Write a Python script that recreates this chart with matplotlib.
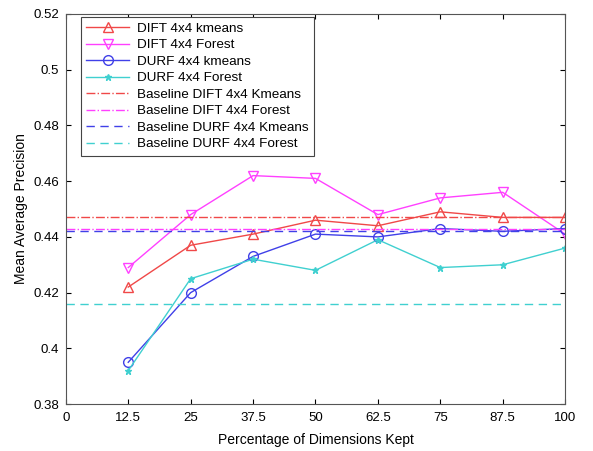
import matplotlib
matplotlib.use('Agg')
import matplotlib.pyplot as plt

plt.rcParams['font.family'] = ['Liberation Sans', 'DejaVu Sans']

pct = [12.5, 25, 37.5, 50, 62.5, 75, 87.5, 100]
dift_kmeans = [0.422, 0.437, 0.441, 0.446, 0.444, 0.449, 0.447, 0.447]
dift_forest = [0.429, 0.448, 0.462, 0.461, 0.448, 0.454, 0.456, 0.441]
durf_kmeans = [0.395, 0.420, 0.433, 0.441, 0.440, 0.443, 0.442, 0.443]
durf_forest = [0.392, 0.425, 0.432, 0.428, 0.439, 0.429, 0.430, 0.436]

base_dift_kmeans = 0.447
base_dift_forest = 0.443
base_durf_kmeans = 0.442
base_durf_forest = 0.416

red = '#f04848'
mag = '#ff40ff'
blue = '#4040e8'
cyan = '#40d0d0'

fig = plt.figure(figsize=(5.93, 4.51), dpi=100)
ax = fig.add_axes([0.111, 0.104, 0.842, 0.865])

ax.plot(pct, dift_kmeans, color=red, marker='^', mfc='none', ms=7, lw=1, label='DIFT 4x4 kmeans')
ax.plot(pct, dift_forest, color=mag, marker='v', mfc='none', ms=7, lw=1, label='DIFT 4x4 Forest')
ax.plot(pct, durf_kmeans, color=blue, marker='o', mfc='none', ms=7, lw=1, label='DURF 4x4 kmeans')
ax.plot(pct, durf_forest, color=cyan, marker='*', ms=5, lw=1, label='DURF 4x4 Forest')
ax.plot([0, 100], [base_dift_kmeans] * 2, color=red, ls='-.', lw=1, label='Baseline DIFT 4x4 Kmeans')
ax.plot([0, 100], [base_dift_forest] * 2, color=mag, ls='-.', lw=1, label='Baseline DIFT 4x4 Forest')
ax.plot([0, 100], [base_durf_kmeans] * 2, color=blue, ls=(0, (6, 4)), lw=1, label='Baseline DURF 4x4 Kmeans')
ax.plot([0, 100], [base_durf_forest] * 2, color=cyan, ls=(0, (6, 4)), lw=1, label='Baseline DURF 4x4 Forest')

ax.set_xlim(0, 100)
ax.set_ylim(0.38, 0.52)
ax.set_xticks([0] + pct)
ax.set_xticklabels(['0', '12.5', '25', '37.5', '50', '62.5', '75', '87.5', '100'])
ax.set_yticks([0.38, 0.4, 0.42, 0.44, 0.46, 0.48, 0.5, 0.52])
ax.set_yticklabels(['0.38', '0.4', '0.42', '0.44', '0.46', '0.48', '0.5', '0.52'])
ax.tick_params(direction='in', top=True, right=True, labelsize=9.5, length=3.5)
ax.tick_params(axis='x', pad=6)
ax.tick_params(axis='y', pad=5)
for s in ax.spines.values():
    s.set_color('#555555')

ax.set_xlabel('Percentage of Dimensions Kept', fontsize=10, labelpad=6)
ax.set_ylabel('Mean Average Precision', fontsize=10, labelpad=4)

leg = ax.legend(loc='upper left', bbox_to_anchor=(0.03, 0.992), borderaxespad=0,
                fontsize=9.7, fancybox=False, framealpha=1, edgecolor='#444444',
                handlelength=3.2, borderpad=0.4, labelspacing=0.3, handletextpad=0.6)
leg.get_frame().set_linewidth(0.8)
leg.set_zorder(2.4)

fig.savefig('out.png', dpi=100)
